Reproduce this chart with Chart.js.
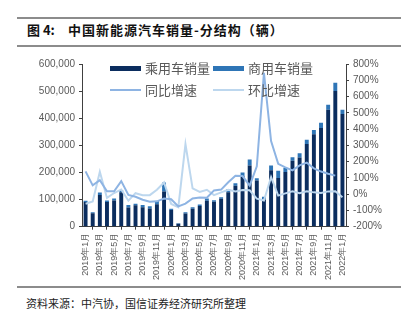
<!DOCTYPE html>
<html>
<head>
<meta charset="utf-8">
<script src="https://cdn.jsdelivr.net/npm/chart.js@4"></script>
<style>
    html, body { margin: 0; padding: 0; background: #fff; }
    body { width: 406px; height: 321px; position: relative; overflow: hidden; font-family: "Noto Sans CJK SC", sans-serif; }
    .rule { position: absolute; left: 17px; width: 384px; height: 2px; background: #8c8c8c; }
    .title { position: absolute; top: 22px; font-size: 13px; line-height: 16px; font-weight: bold; color: #111; white-space: pre; }
    .source { position: absolute; left: 26px; top: 296px; font-size: 11px; line-height: 14px; color: #222; white-space: pre; }
    .chart-wrap { position: absolute; left: 0; top: 48px; width: 406px; height: 238px; }
    .lg-key { position: absolute; }
    .lg-text { position: absolute; font-size: 13px; line-height: 16px; color: #595959; white-space: pre; }
</style>
</head>
<body>
<div class="rule" style="top:16.5px"></div>
<div class="title" style="left:27px">图 4:</div>
<div class="title" style="left:68px; letter-spacing:1px">中国新能源汽车销量-分结构（辆）</div>
<div class="rule" style="top:45px"></div>

<div class="chart-wrap"><canvas id="salesChart" width="406" height="238"></canvas></div>
<div id="legend"></div>

<div class="rule" style="top:286px"></div>
<div class="source">资料来源：中汽协，国信证券经济研究所整理</div>

<script>
// ===================== DATA =====================
const months = [
    "2019年1月", "2019年2月", "2019年3月", "2019年4月", "2019年5月", "2019年6月",
    "2019年7月", "2019年8月", "2019年9月", "2019年10月", "2019年11月", "2019年12月",
    "2020年1月", "2020年2月", "2020年3月", "2020年4月", "2020年5月", "2020年6月",
    "2020年7月", "2020年8月", "2020年9月", "2020年10月", "2020年11月", "2020年12月",
    "2021年1月", "2021年2月", "2021年3月", "2021年4月", "2021年5月", "2021年6月",
    "2021年7月", "2021年8月", "2021年9月", "2021年10月", "2021年11月", "2021年12月",
    "2022年1月"
];

// 乘用车销量 (辆)
const passengerSales = [
    91000, 50000, 117000, 91000, 97000, 127000, 71000, 79000, 72000, 67000, 83000, 130000,
    62000, 11000, 49000, 66000, 76000, 96000, 92000, 103000, 127000, 151000, 187000, 226000,
    170000, 100000, 208000, 180000, 202000, 243000, 255000, 305000, 341000, 364000, 431000, 500000,
    416000
];

// 商用车销量 (辆)
const commercialSales = [
    5000, 3000, 9000, 6000, 7000, 7000, 9000, 6000, 8000, 8000, 12000, 33000,
    4000, 2000, 4000, 6000, 6000, 8000, 6000, 6000, 11000, 9000, 13000, 22000,
    9000, 10000, 18000, 26000, 15000, 13000, 16000, 16000, 16000, 19000, 19000, 31000,
    15000
];

// 同比增速 (%)
const yoyGrowth = [
    140, 54, 86, 18, 18, 80, -5, -16, -34, -46, -44, -27,
    -31, -75, -58, -26, -21, -22, 23, 28, 73, 113, 111, 52,
    171, 746, 326, 186, 165, 146, 177, 194, 159, 139, 125, 114,
    null
];

// 环比增速 (%)
const momGrowth = [
    -59, -45, 138, -23, 7, 29, -40, 6, -6, -6, 27, 72,
    -60, -80, 308, 36, 14, 27, -6, 11, 27, 16, 25, 24,
    -28, -39, 105, -9, 5, 18, 6, 18, 11, 7, 17, 18,
    -19
];

const seriesNames = ["乘用车销量", "商用车销量", "同比增速", "环比增速"];

// axis ranges
const salesAxis = { min: 0, max: 600000, step: 100000 };
const growthAxis = { min: -200, max: 800, step: 100 };

// ===================== STYLE =====================
const colors = ["#0b2d5e", "#2e75b6", "#8eb4e3", "#bdd7ee"];
const axisColor = "#404040";
const tickFont = { family: "'Liberation Sans', Arial, sans-serif", size: 10 };

// ===================== CHART =====================
const ctx = document.getElementById("salesChart");

new Chart(ctx, {
    type: "bar",
    data: {
        labels: months,
        datasets: [
            {
                type: "line",
                label: seriesNames[2],
                data: yoyGrowth,
                yAxisID: "y1",
                borderColor: colors[2],
                borderWidth: 2,
                pointRadius: 0,
                tension: 0,
                order: 0
            },
            {
                type: "line",
                label: seriesNames[3],
                data: momGrowth,
                yAxisID: "y1",
                borderColor: colors[3],
                borderWidth: 2,
                pointRadius: 0,
                tension: 0,
                order: 0
            },
            {
                label: seriesNames[0],
                data: passengerSales,
                backgroundColor: colors[0],
                yAxisID: "y",
                stack: "sales",
                barPercentage: 0.55,
                categoryPercentage: 1.0,
                order: 1
            },
            {
                label: seriesNames[1],
                data: commercialSales,
                backgroundColor: colors[1],
                yAxisID: "y",
                stack: "sales",
                barPercentage: 0.55,
                categoryPercentage: 1.0,
                order: 1
            }
        ]
    },
    options: {
        responsive: false,
        animation: false,
        devicePixelRatio: 1,
        layout: { padding: { top: 16, left: 39, right: 0, bottom: 0 } },
        plugins: {
            legend: { display: false },
            tooltip: { enabled: false }
        },
        scales: {
            x: {
                stacked: true,
                grid: { drawOnChartArea: false, drawTicks: true, tickLength: 3, color: axisColor },
                border: { display: true, color: axisColor },
                ticks: {
                    autoSkip: false,
                    minRotation: 90,
                    maxRotation: 90,
                    padding: 3,
                    color: "#595959",
                    font: { family: tickFont.family, size: 9 },
                    callback: (value, index) => index % 2 === 0 ? months[index] : null
                },
                afterFit: (scale) => { scale.height = 59.3; }
            },
            y: {
                position: "left",
                stacked: true,
                min: salesAxis.min,
                max: salesAxis.max,
                grid: { drawOnChartArea: false, drawTicks: true, tickLength: 3, color: axisColor },
                border: { display: true, color: axisColor },
                ticks: {
                    stepSize: salesAxis.step,
                    padding: 4,
                    color: "#595959",
                    font: tickFont,
                    callback: (value) => value.toLocaleString("en-US")
                },
                afterFit: (scale) => { scale.width = 43; }
            },
            y1: {
                position: "right",
                min: growthAxis.min,
                max: growthAxis.max,
                grid: { drawOnChartArea: false, drawTicks: true, tickLength: 3, color: axisColor },
                border: { display: true, color: axisColor },
                ticks: {
                    stepSize: growthAxis.step,
                    padding: 4,
                    color: "#595959",
                    font: tickFont,
                    callback: (value) => value + "%"
                },
                afterFit: (scale) => { scale.width = 60; }
            }
        }
    }
});

// ===================== LEGEND (inside plot, 2 x 2) =====================
const legendSpots = [
    { x: 110, y: 68, kind: "box" },
    { x: 213, y: 68, kind: "box" },
    { x: 110, y: 90, kind: "line" },
    { x: 213, y: 90, kind: "line" }
];
const legendEl = document.getElementById("legend");
seriesNames.forEach((name, i) => {
    const spot = legendSpots[i];
    const key = document.createElement("div");
    key.className = "lg-key";
    const h = spot.kind === "box" ? 5 : 2;
    key.style.cssText = `left:${spot.x}px; top:${spot.y - h / 2}px; width:31px; height:${h}px; background:${colors[i]}`;
    const txt = document.createElement("div");
    txt.className = "lg-text";
    txt.style.left = (spot.x + 35) + "px";
    txt.style.top = (spot.y - 8) + "px";
    txt.textContent = name;
    legendEl.appendChild(key);
    legendEl.appendChild(txt);
});
</script>
</body>
</html>
